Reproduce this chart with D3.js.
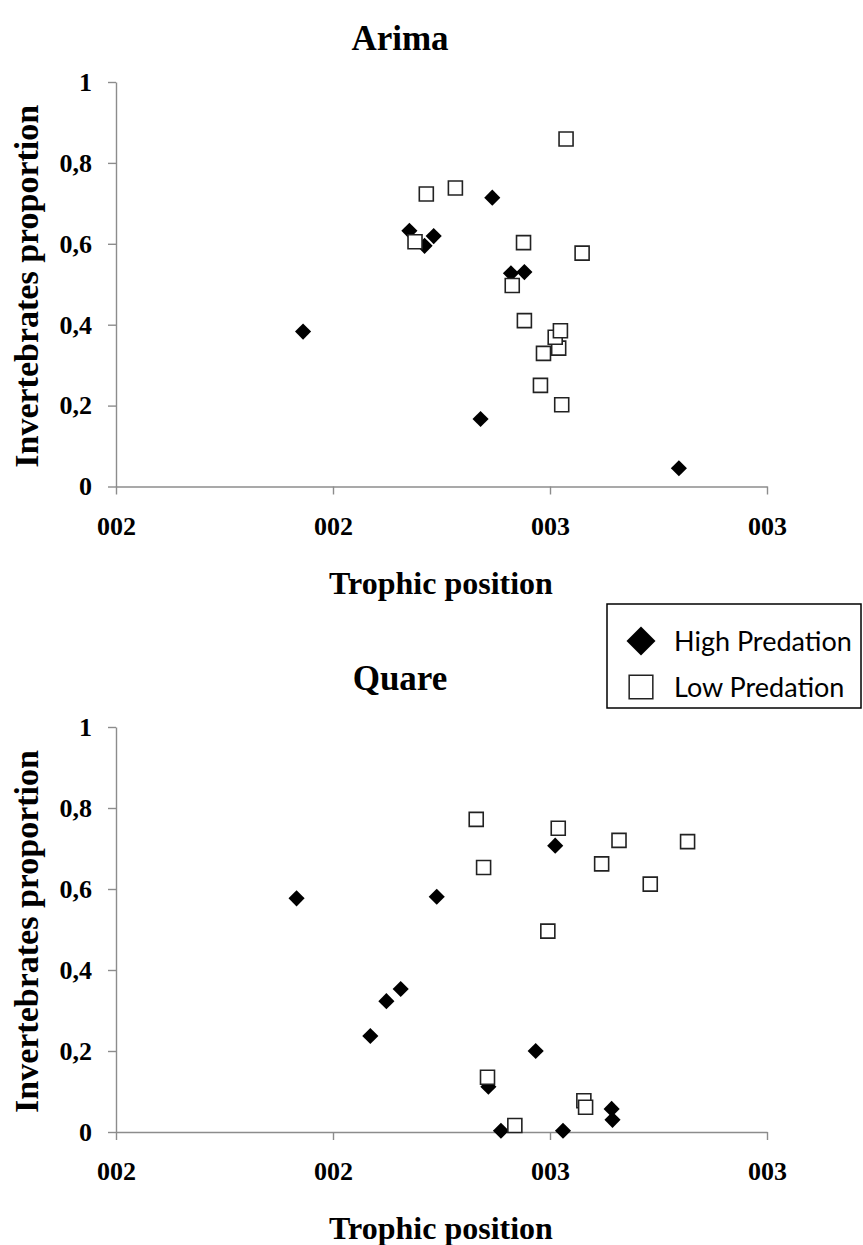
<!DOCTYPE html>
<html>
<head>
<meta charset="utf-8">
<script src="https://cdn.jsdelivr.net/npm/d3@7"></script>
<style>
  html, body { margin: 0; padding: 0; background: #fff; }
  svg { display: block; }
</style>
</head>
<body>
<script>
// ---------- data ----------
const yTicks = [0, 0.2, 0.4, 0.6, 0.8, 1];
const yTickLabels = ["0", "0,2", "0,4", "0,6", "0,8", "1"];
const xTicks = [1.5, 2, 2.5, 3];
const xTickLabels = ["002", "002", "003", "003"];
const seriesNames = ["High Predation", "Low Predation"];

const arimaHighX = [1.931, 2.176, 2.211, 2.232, 2.367, 2.410, 2.441, 2.340, 2.797];
const arimaHighY = [0.383, 0.632, 0.595, 0.619, 0.714, 0.527, 0.530, 0.167, 0.045];
const arimaLowX = [2.537, 2.215, 2.282, 2.189, 2.439, 2.574, 2.413, 2.441, 2.485, 2.520, 2.512, 2.524, 2.478, 2.527];
const arimaLowY = [0.859, 0.723, 0.738, 0.605, 0.603, 0.577, 0.497, 0.410, 0.329, 0.342, 0.369, 0.385, 0.250, 0.202];

const quareHighX = [1.916, 2.239, 2.123, 2.156, 2.086, 2.512, 2.467, 2.358, 2.387, 2.530, 2.642, 2.644];
const quareHighY = [0.577, 0.581, 0.323, 0.353, 0.237, 0.707, 0.200, 0.112, 0.003, 0.003, 0.057, 0.030];
const quareLowX = [2.330, 2.347, 2.519, 2.659, 2.817, 2.619, 2.731, 2.495, 2.356, 2.578, 2.582, 2.419];
const quareLowY = [0.772, 0.653, 0.750, 0.720, 0.717, 0.662, 0.612, 0.496, 0.135, 0.077, 0.061, 0.016];

// ---------- drawing ----------
const W = 863, H = 1245;
const serif = "'Liberation Serif', 'Times New Roman', serif";
const sans = "Lato, 'Open Sans', sans-serif";
const axisColor = "#8c8c8c";

const svg = d3.select("body").append("svg")
  .attr("width", W).attr("height", H)
  .attr("viewBox", `0 0 ${W} ${H}`);

const diamond = d3.symbol().type(d3.symbolSquare).size(130);
const square = d3.symbol().type(d3.symbolSquare).size(196);

function drawPanel(title, hiX, hiY, loX, loY, yTop, yBottom, titleBaseline) {
  const x = d3.scaleLinear().domain([1.5, 3]).range([116, 767]);
  const y = d3.scaleLinear().domain([0, 1]).range([yBottom, yTop]);

  const g = svg.append("g");

  // title
  g.append("text")
    .attr("x", 400).attr("y", titleBaseline)
    .attr("text-anchor", "middle")
    .style("font-family", serif).style("font-weight", "bold").style("font-size", "35px")
    .text(title);

  // y axis
  const yAxis = d3.axisLeft(y).tickValues(yTicks)
    .tickFormat((d, i) => yTickLabels[i]).tickSizeInner(8).tickSizeOuter(0).tickPadding(16);
  const ya = g.append("g").attr("transform", `translate(${x(1.5)},0)`).call(yAxis);
  ya.select(".domain").attr("stroke", axisColor).attr("stroke-width", 1.4);
  ya.selectAll(".tick line").attr("stroke", axisColor).attr("stroke-width", 1.4);
  ya.selectAll(".tick text").attr("fill", "#000")
    .style("font-family", serif).style("font-weight", "bold").style("font-size", "26px");

  // x axis
  const xAxis = d3.axisBottom(x).tickValues(xTicks)
    .tickFormat((d, i) => xTickLabels[i]).tickSizeInner(8).tickSizeOuter(0).tickPadding(22);
  const xa = g.append("g").attr("transform", `translate(0,${y(0)})`).call(xAxis);
  xa.select(".domain").attr("stroke", axisColor).attr("stroke-width", 1.4);
  xa.selectAll(".tick line").attr("stroke", axisColor).attr("stroke-width", 1.4);
  xa.selectAll(".tick text").attr("fill", "#000")
    .style("font-family", serif).style("font-weight", "bold").style("font-size", "26px");

  // axis titles
  g.append("text")
    .attr("x", 441).attr("y", yBottom + 107)
    .attr("text-anchor", "middle")
    .style("font-family", serif).style("font-weight", "bold").style("font-size", "32px")
    .text("Trophic position");

  g.append("text")
    .attr("transform", `translate(38,${(yTop + yBottom) / 2 + 2}) rotate(-90)`)
    .attr("text-anchor", "middle")
    .style("font-family", serif).style("font-weight", "bold").style("font-size", "34px")
    .text("Invertebrates proportion");

  // high predation: filled diamonds
  g.append("g").selectAll("path")
    .data(hiX.map((v, i) => [v, hiY[i]]))
    .join("path")
    .attr("d", diamond)
    .attr("transform", d => `translate(${x(d[0])},${y(d[1])}) rotate(45)`)
    .attr("fill", "#000");

  // low predation: open squares
  g.append("g").selectAll("path")
    .data(loX.map((v, i) => [v, loY[i]]))
    .join("path")
    .attr("d", square)
    .attr("transform", d => `translate(${x(d[0])},${y(d[1])})`)
    .attr("fill", "#fff")
    .attr("stroke", "#222")
    .attr("stroke-width", 1.6);
}

drawPanel("Arima", arimaHighX, arimaHighY, arimaLowX, arimaLowY, 82, 486.5, 50);
drawPanel("Quare", quareHighX, quareHighY, quareLowX, quareLowY, 727, 1132, 690);

// legend
const lg = svg.append("g");
lg.append("rect")
  .attr("x", 607).attr("y", 604).attr("width", 254).attr("height", 104)
  .attr("fill", "#fff").attr("stroke", "#000").attr("stroke-width", 1.5);

lg.append("path")
  .attr("d", d3.symbol().type(d3.symbolSquare).size(420))
  .attr("transform", "translate(641,641) rotate(45)")
  .attr("fill", "#000");
lg.append("path")
  .attr("d", d3.symbol().type(d3.symbolSquare).size(560))
  .attr("transform", "translate(641,687)")
  .attr("fill", "#fff").attr("stroke", "#222").attr("stroke-width", 1.5);

lg.selectAll("text.leg")
  .data(seriesNames)
  .join("text")
  .attr("class", "leg")
  .attr("x", 674)
  .attr("y", (d, i) => 651 + i * 46)
  .style("font-family", sans).style("font-size", "27px")
  .attr("fill", "#000")
  .text(d => d);
</script>
</body>
</html>
